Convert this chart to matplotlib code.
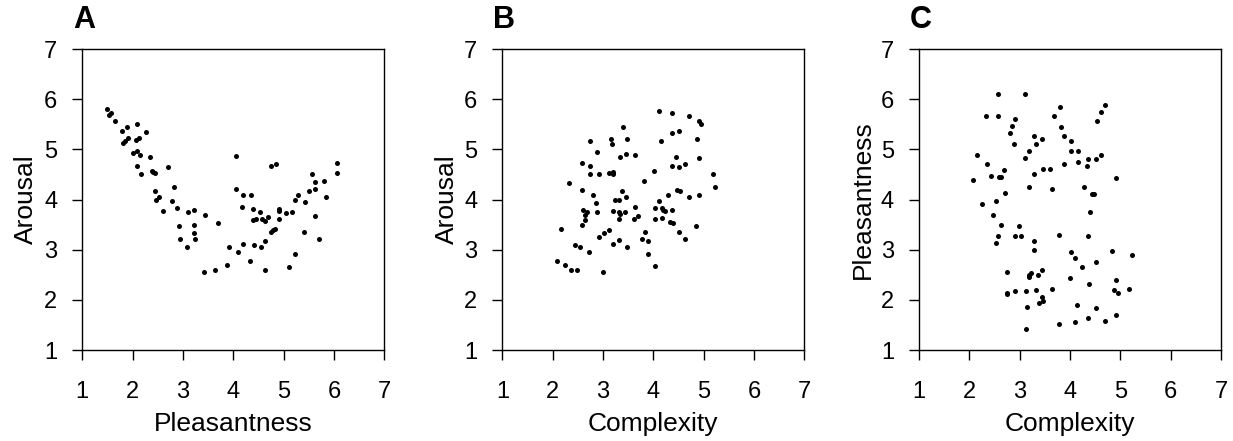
import matplotlib
matplotlib.use("Agg")
import matplotlib.pyplot as plt

plt.rcParams['font.family'] = ['Liberation Sans', 'DejaVu Sans']

# Panel A: pleasantness vs arousal
a_x = [1.50, 1.57, 1.53, 1.65, 1.79, 1.89, 1.81, 1.85, 1.91, 2.08, 2.26, 2.06, 2.13,
       2.01, 2.09, 2.15, 2.09, 2.17, 2.34, 2.39, 2.41, 2.45, 2.70, 2.44, 2.47, 2.53,
       2.61, 2.83, 2.78, 2.89, 2.92, 2.95, 3.08, 3.11, 3.23, 3.23, 3.23, 3.25, 3.44,
       3.42, 3.64, 3.70, 3.87, 3.91, 4.06, 4.06, 4.09, 4.19, 4.17, 4.19, 4.33, 4.36,
       4.40, 4.40, 4.42, 4.45, 4.53, 4.56, 4.58, 4.63, 4.64, 4.64, 4.70, 4.76, 4.79,
       4.83, 4.76, 4.85, 4.91, 4.91, 4.91, 5.05, 5.16, 5.11, 5.23, 5.23, 5.29, 5.40,
       5.42, 5.51, 5.56, 5.62, 5.62, 5.62, 5.70, 5.81, 5.84, 6.06, 6.06]
a_y = [5.80, 5.73, 5.68, 5.57, 5.37, 5.45, 5.12, 5.17, 5.23, 5.50, 5.35, 5.18, 5.23,
       4.92, 4.97, 4.89, 4.67, 4.51, 4.85, 4.57, 4.54, 4.53, 4.64, 4.18, 3.99, 4.06,
       3.78, 4.25, 3.97, 3.84, 3.47, 3.21, 3.06, 3.75, 3.80, 3.50, 3.34, 3.22, 3.69,
       2.56, 2.59, 3.54, 2.69, 3.06, 4.87, 4.20, 2.95, 4.09, 3.86, 3.11, 2.77, 4.09,
       3.81, 3.59, 3.09, 3.61, 3.75, 3.06, 3.62, 3.57, 3.17, 2.59, 3.65, 3.35, 3.39,
       3.41, 4.67, 4.70, 3.82, 3.61, 3.78, 3.73, 3.75, 2.66, 2.92, 3.99, 4.09, 3.36,
       3.95, 4.17, 4.50, 4.34, 4.20, 3.67, 3.22, 4.36, 4.06, 4.72, 4.53]

# Panel B: complexity vs arousal
b_x = [2.08, 2.25, 2.36, 2.48, 2.16, 2.33, 2.44, 2.55, 2.59, 2.59, 2.61, 2.64, 2.64,
       2.69, 2.59, 2.75, 2.75, 2.75, 2.73, 2.81, 2.87, 2.89, 2.89, 2.92, 2.92, 3.01,
       3.03, 3.12, 3.15, 3.17, 3.12, 3.20, 3.20, 3.20, 3.20, 3.23, 3.31, 3.31, 3.31,
       3.34, 3.31, 3.34, 3.37, 3.40, 3.43, 3.45, 3.45, 3.48, 3.48, 3.62, 3.64, 3.64,
       3.70, 3.78, 3.81, 3.84, 3.90, 3.90, 4.01, 4.04, 4.04, 4.04, 4.12, 4.12, 4.15,
       4.18, 4.18, 4.20, 4.24, 4.29, 4.37, 4.37, 4.37, 4.37, 4.34, 4.39, 4.45, 4.48,
       4.51, 4.51, 4.53, 4.51, 4.62, 4.62, 4.70, 4.70, 4.84, 4.87, 4.90, 4.95, 4.90,
       4.90, 5.18, 5.23]
b_y = [2.77, 2.70, 2.59, 2.59, 3.42, 4.33, 3.09, 3.05, 4.19, 3.50, 3.80, 3.70, 3.59,
       3.75, 4.72, 4.66, 4.50, 5.17, 2.95, 4.09, 3.94, 3.75, 4.95, 4.50, 3.25, 2.56,
       3.34, 3.39, 5.21, 5.11, 4.53, 4.55, 4.50, 3.77, 3.11, 3.99, 3.99, 3.61, 3.75,
       3.72, 3.19, 4.85, 4.17, 5.44, 3.75, 4.05, 4.91, 5.21, 3.05, 3.61, 4.89, 3.85,
       3.67, 3.22, 4.36, 3.36, 3.17, 2.92, 4.56, 2.67, 3.83, 3.61, 3.97, 5.77, 5.17,
       3.83, 3.64, 3.80, 3.77, 4.09, 5.72, 5.33, 4.66, 3.80, 3.56, 3.53, 4.85, 4.19,
       5.36, 4.64, 4.17, 3.36, 4.70, 3.22, 5.67, 4.05, 3.47, 5.21, 5.56, 5.50, 4.83,
       4.09, 4.50, 4.25]

# Panel C: complexity vs pleasantness
c_x = [2.08, 2.16, 2.25, 2.33, 2.36, 2.44, 2.47, 2.54, 2.54, 2.57, 2.57, 2.57, 2.60,
       2.63, 2.63, 2.69, 2.71, 2.74, 2.74, 2.74, 2.80, 2.85, 2.91, 2.89, 2.90, 2.91,
       2.99, 3.03, 3.10, 3.10, 3.19, 3.19, 3.13, 3.15, 3.13, 3.19, 3.19, 3.22, 3.29,
       3.33, 3.29, 3.29, 3.29, 3.33, 3.36, 3.39, 3.44, 3.47, 3.45, 3.44, 3.47, 3.61,
       3.64, 3.64, 3.69, 3.78, 3.78, 3.80, 3.83, 3.89, 3.89, 4.00, 4.03, 4.03, 4.03,
       4.11, 4.14, 4.11, 4.17, 4.17, 4.23, 4.28, 4.34, 4.36, 4.36, 4.37, 4.36, 4.39,
       4.43, 4.48, 4.51, 4.51, 4.51, 4.53, 4.61, 4.61, 4.70, 4.70, 4.84, 4.87, 4.91,
       4.91, 4.91, 4.95, 5.17, 5.23]
c_y = [4.39, 4.89, 3.91, 5.67, 4.70, 4.46, 3.70, 3.97, 3.14, 6.11, 5.67, 3.28, 4.44,
       4.44, 3.50, 4.58, 4.13, 2.56, 2.13, 2.11, 5.33, 5.46, 5.60, 5.11, 2.17, 3.28,
       3.47, 3.28, 6.11, 4.83, 4.97, 4.25, 2.17, 1.85, 1.42, 2.46, 2.49, 2.53, 5.27,
       5.11, 4.50, 3.17, 3.00, 2.20, 2.49, 1.94, 2.05, 1.97, 2.59, 5.20, 4.61, 4.61,
       4.21, 2.22, 5.67, 3.30, 1.52, 5.85, 5.44, 5.27, 4.70, 2.44, 5.17, 4.97, 2.95,
       2.83, 1.89, 1.55, 4.97, 4.75, 2.66, 4.25, 4.66, 4.80, 3.28, 2.31, 1.64, 3.75,
       4.11, 4.11, 4.80, 2.75, 1.83, 5.56, 5.75, 4.89, 5.89, 1.58, 2.97, 2.20, 4.42,
       2.39, 1.69, 2.13, 2.22, 2.89]

panels = [
    ("A", a_x, a_y, "Pleasantness", "Arousal"),
    ("B", b_x, b_y, "Complexity", "Arousal"),
    ("C", c_x, c_y, "Complexity", "Pleasantness"),
]
ticks = [1, 2, 3, 4, 5, 6, 7]

fig = plt.figure(figsize=(12.33, 4.41), dpi=100)
lefts = [0.0667, 0.4074, 0.7453]

for left, (letter, xs, ys, xlab, ylab) in zip(lefts, panels):
    ax = fig.add_axes([left, 0.2063, 0.2449, 0.6825])
    ax.scatter(xs, ys, s=13, color='black', linewidths=0)
    ax.set_xlim(1, 7)
    ax.set_ylim(1, 7)
    ax.set_xticks(ticks)
    ax.set_yticks(ticks)
    ax.tick_params(direction='out', length=7, width=1, labelsize=17)
    ax.tick_params(axis='x', pad=15)
    ax.tick_params(axis='y', pad=11)
    for sp in ax.spines.values():
        sp.set_linewidth(1)
        sp.set_color('black')
    ax.set_xlabel(xlab, fontsize=19, labelpad=7)
    ax.set_ylabel(ylab, fontsize=19, labelpad=4)
    ax.text(-0.03, 1.096, letter, transform=ax.transAxes, fontsize=22,
            fontweight='bold', ha='left', va='center')

fig.savefig("out.png", dpi=100)
